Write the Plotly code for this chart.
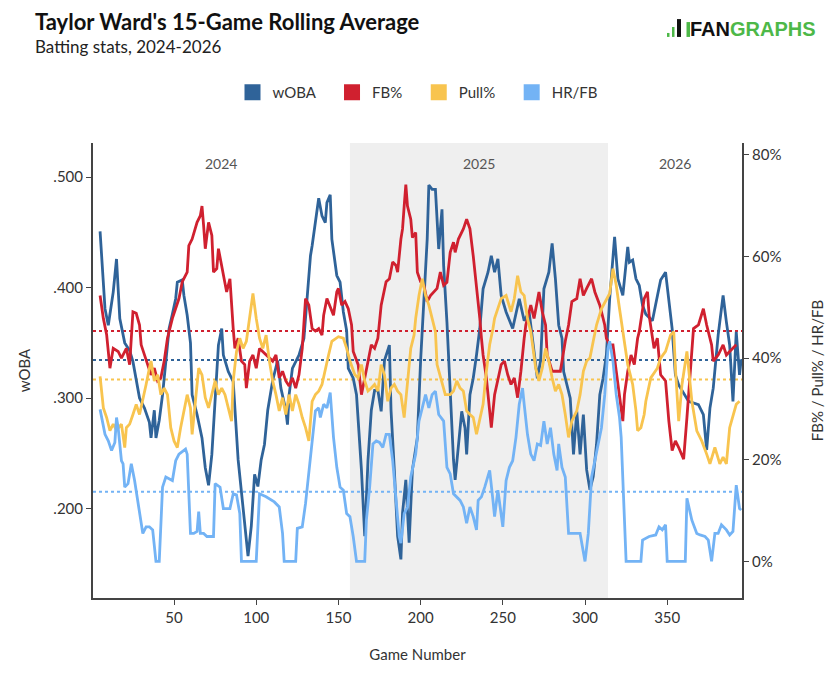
import plotly.graph_objects as go
from plotly.subplots import make_subplots

# ---------------- data ----------------
woba_games = [5, 8, 10, 13, 15, 17, 20, 23, 25, 29, 32, 35, 36, 38, 39, 41, 43, 45, 47, 49, 51, 52, 55, 56, 58, 60, 61, 64, 67, 69, 71, 73, 75, 77, 79, 80, 83, 86, 89, 91, 93, 95, 97, 99, 101, 103, 105, 107, 110, 113, 115, 118, 119, 120, 122, 126, 129, 131, 133, 134, 136, 138, 140, 142, 143, 145, 146, 149, 151, 153, 155, 156, 159, 161, 164, 166, 168, 170, 172, 174, 176, 178, 181, 182, 184, 186, 188, 189, 191, 193, 195, 198, 200, 201, 202, 204, 205, 207, 209, 211, 213, 214, 216, 218, 220, 221, 223, 225, 227, 228, 230, 232, 234, 236, 238, 241, 243, 245, 247, 249, 252, 256, 260, 263, 266, 268, 271, 273, 274, 275, 278, 280, 282, 284, 286, 287, 291, 293, 295, 297, 299, 301, 303, 305, 307, 309, 311, 313, 315, 318, 320, 323, 326, 327, 329, 331, 333, 335, 337, 341, 343, 346, 349, 351, 353, 355, 357, 363, 369, 372, 374, 376, 378, 381, 384, 386, 388, 390, 392, 394, 395]
woba_vals = [.451, .381, .366, .396, .426, .372, .350, .343, .333, .300, .291, .278, .264, .289, .264, .280, .303, .334, .363, .376, .390, .405, .407, .393, .375, .350, .303, .285, .264, .237, .221, .249, .294, .348, .363, .339, .324, .315, .244, .214, .184, .157, .184, .231, .220, .244, .258, .289, .316, .334, .309, .289, .276, .303, .327, .339, .354, .390, .429, .438, .458, .481, .465, .459, .477, .484, .444, .411, .405, .378, .361, .327, .318, .303, .235, .175, .244, .289, .307, .307, .288, .334, .348, .289, .235, .175, .154, .196, .226, .169, .235, .264, .334, .363, .399, .444, .493, .489, .489, .435, .471, .420, .369, .303, .244, .226, .258, .288, .273, .249, .303, .318, .339, .363, .399, .414, .429, .414, .426, .393, .378, .363, .390, .370, .378, .354, .318, .334, .363, .399, .414, .440, .408, .366, .354, .324, .300, .249, .288, .249, .285, .235, .217, .229, .258, .303, .318, .339, .390, .446, .408, .393, .437, .423, .425, .408, .402, .384, .376, .370, .385, .407, .414, .387, .363, .321, .312, .297, .294, .285, .253, .291, .309, .357, .393, .369, .348, .297, .360, .321, .335]

fb_games = [5, 7, 9, 11, 13, 16, 18, 21, 23, 25, 27, 29, 30, 33, 36, 38, 40, 42, 44, 46, 49, 53, 55, 58, 59, 61, 64, 66, 67, 68, 69, 71, 73, 74, 76, 77, 79, 81, 82, 84, 85, 86, 87, 89, 91, 93, 94, 96, 98, 100, 102, 104, 106, 108, 110, 112, 114, 116, 118, 120, 122, 124, 126, 128, 130, 132, 134, 136, 138, 140, 141, 143, 147, 149, 150, 152, 154, 156, 158, 159, 162, 164, 166, 168, 170, 172, 174, 176, 179, 181, 183, 185, 186, 188, 189, 190, 191, 192, 194, 195, 197, 198, 200, 202, 204, 206, 208, 210, 212, 214, 216, 218, 220, 221, 223, 226, 228, 230, 232, 234, 236, 237, 238, 240, 243, 245, 247, 249, 251, 253, 255, 257, 259, 261, 263, 264, 267, 269, 272, 274, 276, 277, 280, 285, 288, 290, 292, 295, 297, 299, 301, 304, 306, 309, 312, 313, 315, 317, 319, 321, 323, 324, 326, 328, 330, 332, 333, 336, 338, 339, 341, 342, 344, 346, 349, 351, 353, 355, 357, 360, 362, 364, 366, 369, 372, 374, 377, 378, 381, 384, 386, 388, 390, 392, 395]
fb_vals = [52.3, 47.8, 44.6, 38.0, 41.9, 41.3, 40.0, 41.9, 38.7, 49.1, 48.8, 46.5, 42.6, 39.4, 36.7, 38.0, 35.5, 36.1, 39.4, 43.9, 47.8, 51.7, 55.0, 56.9, 62.1, 63.4, 66.7, 68.0, 69.9, 66.0, 61.5, 66.7, 64.1, 56.9, 57.6, 61.5, 58.2, 54.3, 53.0, 55.6, 49.7, 45.8, 41.9, 43.9, 39.4, 38.7, 34.1, 39.4, 40.6, 38.0, 41.9, 41.3, 40.6, 40.0, 39.4, 40.6, 36.1, 37.4, 35.5, 34.5, 36.1, 34.1, 36.7, 41.9, 51.7, 50.4, 45.8, 45.3, 45.8, 44.5, 48.4, 51.7, 48.4, 53.0, 53.7, 50.4, 51.1, 49.7, 46.5, 41.3, 38.7, 32.8, 36.1, 40.0, 42.6, 41.9, 43.9, 50.4, 55.0, 55.6, 58.9, 58.2, 56.9, 63.4, 65.4, 69.9, 74.1, 69.9, 67.3, 63.7, 64.7, 56.9, 55.0, 54.3, 51.1, 52.3, 53.0, 53.7, 56.9, 54.3, 54.9, 60.8, 62.8, 60.8, 63.4, 65.4, 67.3, 65.4, 60.1, 54.3, 47.8, 43.9, 40.6, 36.1, 26.3, 32.8, 36.1, 38.7, 39.4, 36.7, 34.8, 36.1, 32.2, 37.4, 43.9, 46.5, 50.4, 47.8, 53.0, 49.1, 46.5, 40.6, 37.4, 37.4, 43.3, 46.5, 51.1, 51.7, 55.6, 52.3, 53.7, 55.6, 53.0, 50.4, 46.5, 43.9, 42.6, 42.6, 37.4, 32.8, 27.6, 32.8, 37.4, 40.6, 38.7, 43.9, 45.2, 51.7, 53.0, 48.4, 43.9, 41.9, 43.9, 36.7, 35.5, 27.6, 21.8, 23.7, 22.4, 20.1, 28.3, 38.0, 45.8, 46.5, 49.7, 46.5, 42.6, 39.4, 40.6, 42.6, 40.6, 41.3, 41.9, 42.6]

pull_games = [5, 7, 9, 11, 13, 15, 18, 20, 21, 23, 25, 27, 29, 31, 33, 35, 36, 38, 40, 42, 44, 46, 48, 50, 52, 54, 56, 58, 60, 61, 63, 65, 67, 69, 71, 73, 75, 77, 79, 81, 83, 85, 86, 88, 90, 92, 94, 96, 98, 100, 102, 104, 106, 108, 110, 112, 114, 116, 118, 120, 122, 124, 126, 128, 130, 132, 134, 136, 138, 140, 142, 144, 146, 150, 153, 155, 157, 160, 162, 164, 166, 168, 170, 172, 174, 176, 178, 180, 182, 184, 186, 188, 190, 192, 194, 196, 197, 199, 201, 203, 205, 207, 209, 210, 213, 215, 218, 220, 222, 224, 226, 228, 230, 232, 234, 236, 238, 240, 242, 244, 245, 249, 252, 255, 257, 259, 261, 263, 265, 267, 268, 270, 272, 274, 276, 278, 280, 282, 284, 286, 288, 290, 292, 295, 297, 299, 301, 303, 305, 307, 310, 313, 315, 317, 319, 321, 323, 326, 329, 331, 332, 334, 336, 337, 340, 344, 346, 349, 352, 354, 355, 357, 359, 362, 363, 365, 368, 371, 374, 376, 379, 382, 384, 386, 388, 390, 392, 394, 395]
pull_vals = [36.4, 30.2, 28.3, 25.7, 27.0, 25.8, 27.0, 22.4, 26.3, 27.0, 28.9, 30.9, 28.9, 32.2, 34.8, 38.0, 39.4, 35.5, 36.7, 32.8, 34.1, 32.8, 26.3, 23.7, 22.4, 26.3, 29.6, 32.8, 30.2, 25.0, 31.5, 38.0, 36.7, 32.2, 30.2, 32.8, 35.5, 32.8, 34.1, 32.8, 30.2, 27.6, 35.5, 41.3, 43.9, 41.9, 43.3, 47.8, 52.7, 47.8, 43.9, 41.9, 44.5, 39.4, 35.5, 32.8, 29.6, 32.2, 28.9, 32.8, 29.6, 32.8, 30.9, 28.3, 26.3, 23.7, 31.5, 32.8, 33.5, 34.8, 37.4, 40.6, 43.3, 44.2, 43.9, 41.9, 39.4, 36.7, 36.1, 38.7, 35.5, 33.5, 34.1, 34.8, 33.5, 38.7, 36.7, 31.5, 34.1, 34.8, 33.5, 32.8, 28.3, 35.5, 41.9, 44.5, 47.8, 52.3, 55.6, 52.3, 50.4, 47.8, 45.2, 38.7, 34.8, 32.8, 32.8, 33.5, 35.5, 34.1, 33.5, 29.6, 28.9, 28.3, 25.0, 28.3, 30.9, 37.4, 42.6, 45.8, 47.8, 51.7, 52.3, 49.1, 51.7, 56.2, 53.0, 52.3, 47.8, 45.2, 42.6, 38.0, 35.5, 38.0, 41.9, 39.4, 36.1, 33.5, 34.8, 32.8, 28.9, 24.4, 27.6, 29.6, 32.8, 37.4, 39.4, 40.0, 43.3, 46.5, 49.7, 51.7, 52.7, 57.6, 54.3, 49.7, 45.2, 38.7, 34.8, 29.6, 25.7, 26.3, 28.9, 31.5, 36.1, 38.0, 40.0, 41.3, 44.5, 45.2, 38.0, 27.6, 34.8, 41.3, 38.0, 31.5, 25.7, 23.7, 21.1, 19.2, 22.4, 19.2, 20.5, 19.2, 26.3, 28.9, 30.9, 31.5]

hrfb_games = [5, 8, 10, 12, 14, 15, 16, 18, 19, 20, 22, 24, 26, 28, 29, 31, 33, 35, 37, 39, 41, 43, 45, 49, 51, 53, 57, 58, 60, 62, 64, 65, 66, 68, 70, 74, 75, 78, 80, 84, 86, 88, 90, 91, 100, 102, 106, 109, 111, 114, 116, 117, 124, 125, 128, 130, 132, 134, 136, 138, 139, 141, 143, 145, 147, 149, 151, 153, 155, 157, 159, 161, 166, 167, 169, 171, 173, 175, 177, 179, 181, 183, 185, 187, 188, 190, 192, 194, 197, 199, 201, 203, 205, 207, 209, 211, 214, 216, 218, 220, 224, 226, 228, 230, 232, 234, 235, 237, 239, 242, 244, 245, 247, 250, 252, 254, 256, 258, 260, 262, 263, 265, 267, 269, 271, 273, 275, 277, 279, 281, 283, 284, 286, 288, 290, 297, 300, 302, 304, 307, 310, 312, 314, 315, 317, 319, 321, 322, 323, 325, 334, 335, 339, 343, 345, 347, 349, 350, 361, 362, 365, 368, 370, 373, 375, 377, 379, 381, 383, 386, 388, 390, 392, 394, 395]
hrfb_vals = [29.9, 25.0, 23.7, 21.8, 23.4, 28.3, 26.3, 19.8, 19.2, 14.6, 15.3, 19.2, 15.9, 11.4, 9.4, 5.5, 6.8, 6.8, 6.2, 0.0, 0.0, 14.6, 16.6, 15.9, 19.8, 21.1, 22.1, 21.1, 5.5, 5.5, 5.9, 9.8, 5.5, 5.5, 4.9, 4.9, 15.3, 14.6, 10.4, 10.4, 13.3, 13.1, 9.4, 0.0, 0.0, 13.3, 12.7, 12.0, 11.7, 10.7, 5.5, 0.0, 0.0, 6.5, 6.8, 11.4, 17.9, 23.1, 29.6, 30.2, 28.3, 30.9, 30.2, 33.2, 24.4, 18.5, 14.6, 14.0, 9.4, 8.8, 4.9, 0.0, 0.0, 8.1, 14.6, 23.1, 23.7, 23.4, 22.4, 25.0, 25.0, 19.8, 12.0, 4.9, 3.6, 9.4, 10.7, 16.6, 21.1, 27.6, 30.2, 32.8, 30.2, 32.8, 33.5, 28.9, 27.6, 18.5, 17.2, 13.3, 12.0, 10.7, 7.5, 10.7, 8.8, 6.2, 12.0, 12.7, 14.6, 17.9, 12.0, 8.8, 14.0, 6.8, 15.9, 18.5, 19.8, 24.4, 30.9, 34.1, 30.9, 25.0, 21.1, 19.8, 23.1, 22.8, 27.6, 23.1, 26.3, 21.1, 17.9, 23.1, 18.5, 16.6, 5.5, 5.5, 0.0, 5.5, 16.6, 21.1, 26.3, 32.8, 41.9, 43.3, 39.4, 32.8, 28.3, 24.4, 16.6, 0.0, 0.0, 4.2, 4.9, 5.2, 6.8, 6.2, 7.2, 0.0, 0.0, 12.4, 8.1, 5.5, 5.2, 4.9, 4.2, 0.0, 5.5, 5.5, 7.2, 6.2, 5.2, 5.9, 15.0, 10.4, 10.1]

woba_avg = 0.3345
fb_avg = 45.3
pull_avg = 35.8
hrfb_avg = 13.7

seasons = ["2024", "2025", "2026"]
season_bounds = [0.7, 157.0, 314.0, 395.5]

x_ticks = [50, 100, 150, 200, 250, 300, 350]
woba_ticks = [0.2, 0.3, 0.4, 0.5]
woba_tick_text = [".200", ".300", ".400", ".500"]
pct_ticks = [0, 20, 40, 60, 80]
pct_tick_text = ["0%", "20%", "40%", "60%", "80%"]

legend_names = ["wOBA", "FB%", "Pull%", "HR/FB"]

# ---------------- style ----------------
C_WOBA = "#2F6399"
C_FB = "#D0202F"
C_PULL = "#F8C44F"
C_HRFB = "#73B3F5"
FONT = "Lato"
AXC = "#444444"
TXT = "#333333"
GREEN = "#4DB848"

fig = make_subplots(specs=[[{"secondary_y": True}]])

# 2025 shading
fig.add_shape(type="rect", xref="x", yref="paper", x0=season_bounds[1], x1=season_bounds[2],
              y0=0, y1=1, fillcolor="#EFEFEF", line_width=0, layer="below")

# season labels
for i, s in enumerate(seasons):
    fig.add_annotation(x=(season_bounds[i] + season_bounds[i + 1]) / 2, y=0.956,
                       xref="x", yref="paper", yanchor="middle", text=s, showarrow=False,
                       font=dict(family=FONT, size=14, color="#555555"))

# average lines
for val, col, yr in [(woba_avg, C_WOBA, "y"), (fb_avg, C_FB, "y2"),
                     (pull_avg, C_PULL, "y2"), (hrfb_avg, C_HRFB, "y2")]:
    fig.add_shape(type="line", xref="paper", yref=yr, x0=0, x1=1, y0=val, y1=val,
                  line=dict(color=col, width=2, dash="dot"), layer="below")

LW = 2.8
fig.add_trace(go.Scatter(x=woba_games, y=woba_vals, mode="lines", name="wOBA",
                         line=dict(color=C_WOBA, width=LW), showlegend=False), secondary_y=False)
fig.add_trace(go.Scatter(x=fb_games, y=fb_vals, mode="lines", name="FB%",
                         line=dict(color=C_FB, width=LW), showlegend=False), secondary_y=True)
fig.add_trace(go.Scatter(x=pull_games, y=pull_vals, mode="lines", name="Pull%",
                         line=dict(color=C_PULL, width=LW), showlegend=False), secondary_y=True)
fig.add_trace(go.Scatter(x=hrfb_games, y=hrfb_vals, mode="lines", name="HR/FB",
                         line=dict(color=C_HRFB, width=LW), showlegend=False), secondary_y=True)

# legend entries (square swatches)
NB = "\u00a0"
for i, (name, col) in enumerate(zip(legend_names, [C_WOBA, C_FB, C_PULL, C_HRFB])):
    label = name + (NB * 3 if i < len(legend_names) - 1 else "")
    fig.add_trace(go.Scatter(x=[None], y=[None], mode="markers", name=label,
                             marker=dict(symbol="square", size=17, color=col)),
                  secondary_y=False)

fig.update_xaxes(range=[season_bounds[0], season_bounds[3]], tickvals=x_ticks, domain=[0, 1],
                 showgrid=False, zeroline=False, showline=True, linecolor=AXC, linewidth=2,
                 ticks="outside", ticklen=5, tickcolor=AXC, tickwidth=1,
                 tickfont=dict(family=FONT, size=15, color=TXT),
                 title=dict(text="Game Number", font=dict(family=FONT, size=15, color=TXT), standoff=24))
fig.update_yaxes(range=[0.119, 0.531], tickvals=woba_ticks, ticktext=woba_tick_text,
                 showgrid=False, zeroline=False, showline=True, linecolor=AXC, linewidth=2,
                 ticks="outside", ticklen=5, tickcolor=AXC, tickwidth=1,
                 tickfont=dict(family=FONT, size=15, color=TXT),
                 title=dict(text="wOBA", font=dict(family=FONT, size=15, color=TXT), standoff=19),
                 secondary_y=False)
fig.update_yaxes(range=[-7.2, 82.3], tickvals=pct_ticks, ticktext=pct_tick_text,
                 showgrid=False, zeroline=False, showline=True, linecolor=AXC, linewidth=2,
                 ticks="outside", ticklen=5, tickcolor=AXC, tickwidth=1,
                 tickfont=dict(family=FONT, size=15, color=TXT),
                 title=dict(text="FB% / Pull% / HR/FB", font=dict(family=FONT, size=15, color=TXT), standoff=32),
                 secondary_y=True)

# titles
fig.add_annotation(x=-0.0924, y=1.268, xref="paper", yref="paper", xanchor="left", yanchor="middle",
                   text="<b>Taylor Ward's 15-Game Rolling Average</b>", showarrow=False,
                   font=dict(family=FONT, size=22, color="#111111"))
fig.add_annotation(x=-0.0924, y=1.211, xref="paper", yref="paper", xanchor="left", yanchor="middle",
                   text="Batting stats, 2024-2026", showarrow=False,
                   font=dict(family=FONT, size=17, color="#222222"))
# logo
fig.add_annotation(x=1.1175, y=1.2505, xref="paper", yref="paper", xanchor="right", yanchor="middle",
                   text="<b>FAN<span style='color:%s'>GRAPHS</span></b>" % GREEN, showarrow=False,
                   font=dict(family="Liberation Sans", size=20, color="#111111"))


def px_x(p):
    return (p - 93) / 649.0


def px_y(p):
    return (602 - p) / 459.0


for (a, b, c, d, col) in [(667, 669.5, 32, 36, GREEN), (672, 674.5, 26, 36, GREEN),
                          (677, 681, 18, 36, "#111111"), (686.5, 690, 21, 36, GREEN)]:
    fig.add_shape(type="rect", xref="paper", yref="paper", x0=px_x(a), x1=px_x(b),
                  y0=px_y(d), y1=px_y(c), fillcolor=col, line_width=0)

fig.update_layout(
    width=840, height=673,
    margin=dict(l=93, r=98, t=143, b=71),
    paper_bgcolor="white", plot_bgcolor="rgba(0,0,0,0)",
    font=dict(family=FONT, color=TXT),
    showlegend=True,
    legend=dict(orientation="h", x=0.5, xanchor="center", y=1.111, yanchor="middle",
                font=dict(family=FONT, size=15, color=TXT), bgcolor="rgba(0,0,0,0)",
                itemsizing="trace"),
)

fig.write_html("out.html")
